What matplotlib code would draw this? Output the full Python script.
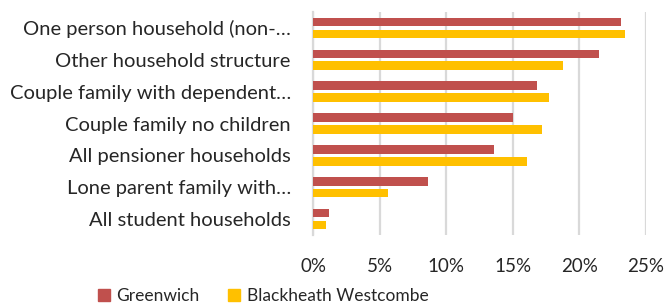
import numpy as np
import matplotlib
matplotlib.use("Agg")
import matplotlib.pyplot as plt
from matplotlib.patches import Patch

plt.rcParams['font.family'] = ['Lato', 'DejaVu Sans']

categories = [
    "One person household (non-…",
    "Other household structure",
    "Couple family with dependent…",
    "Couple family no children",
    "All pensioner households",
    "Lone parent family with…",
    "All student households",
]
greenwich = [23.1, 21.5, 16.8, 15.0, 13.6, 8.6, 1.2]
blackheath = [23.4, 18.8, 17.7, 17.2, 16.1, 5.6, 1.0]
ticks = [0, 5, 10, 15, 20, 25]
tick_labels = ["0%", "5%", "10%", "15%", "20%", "25%"]

red = "#C0504D"
gold = "#FFC000"
grid_col = "#D9D9D9"
text_col = "#262626"

fig = plt.figure(figsize=(6.68, 3.07), dpi=100)
ax = fig.add_axes([0.4686, 0.2345, 0.4985, 0.7264])

y = np.arange(len(categories))
h = 0.27
off = 0.185
ax.barh(y - off, greenwich, height=h, color=red, zorder=3)
ax.barh(y + off, blackheath, height=h, color=gold, zorder=3)

ax.set_xlim(0, 25)
ax.set_ylim(len(categories) - 0.5, -0.5)
ax.set_xticks(ticks)
ax.set_xticklabels(tick_labels)
ax.set_yticks(y)
ax.set_yticklabels(categories)

ax.grid(axis='x', color=grid_col, linewidth=1.6, zorder=0)
for s in ['top', 'right', 'bottom']:
    ax.spines[s].set_visible(False)
ax.spines['left'].set_color(grid_col)
ax.spines['left'].set_linewidth(1.6)
ax.tick_params(axis='both', length=0, colors=text_col)
ax.tick_params(axis='x', pad=16.5, labelsize=13.5)
ax.tick_params(axis='y', pad=16, labelsize=14.5)

handles = [Patch(color=red, label="Greenwich"),
           Patch(color=gold, label="Blackheath Westcombe")]
fig.legend(handles=handles, loc='lower center', bbox_to_anchor=(263 / 668, -0.04),
           ncol=2, frameon=False, fontsize=12.5, handlelength=0.7, handleheight=0.7,
           columnspacing=1.6, handletextpad=0.4, labelcolor=text_col)

fig.savefig("out.png", dpi=100)
